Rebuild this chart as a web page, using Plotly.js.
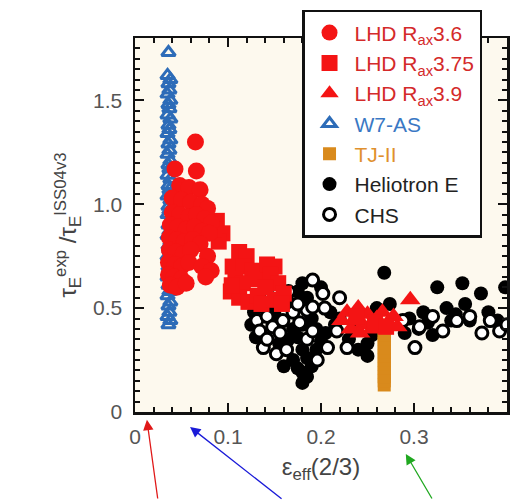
<!DOCTYPE html>
<html>
<head>
<meta charset="utf-8">
<script src="https://cdn.plot.ly/plotly-3.0.1.min.js"></script>
<style>
html,body{margin:0;padding:0;background:#fff;overflow:hidden;}
#chart{width:512px;height:500px;}
</style>
</head>
<body>
<div id="chart"></div>
<script>
// ---- data ----
const w7Name = 'W7-AS';
const w7X = [0.036,0.035,0.038,0.036,0.037,0.035,0.038,0.036,0.037,0.035,0.038,0.036,0.037,0.035,0.038,0.036,0.037,0.035,0.038,0.036,0.037,0.035,0.038,0.036,0.037,0.035,0.038,0.036,0.037,0.035,0.038,0.036,0.037,0.035,0.038,0.036,0.037,0.035,0.038,0.036,0.037,0.035,0.038,0.036,0.037,0.035,0.038,0.036,0.037,0.035,0.038,0.036];
const w7Y = [1.73,1.62,1.60,1.58,1.55,1.53,1.50,1.48,1.46,1.43,1.41,1.38,1.36,1.34,1.31,1.29,1.26,1.24,1.21,1.19,1.17,1.14,1.12,1.09,1.07,1.04,1.02,0.99,0.97,0.95,0.92,0.90,0.87,0.85,0.82,0.80,0.78,0.75,0.73,0.70,0.68,0.65,0.63,0.61,0.58,0.56,0.53,0.51,0.48,0.46,0.44,0.42];

const lhd36X = [0.065,0.043,0.066,0.048,0.058,0.070,0.040,0.050,0.060,0.072,0.078,0.040,0.048,0.058,0.066,0.075,0.082,0.038,0.046,0.055,0.064,0.072,0.080,0.037,0.045,0.053,0.062,0.070,0.037,0.044,0.052,0.060,0.078,0.036,0.043,0.050,0.058,0.072,0.082,0.036,0.042,0.050,0.076,0.038,0.045,0.055];
const lhd36Y = [1.30,1.17,1.16,1.09,1.08,1.07,1.03,1.02,1.01,1.00,0.98,0.96,0.95,0.94,0.95,0.93,0.91,0.90,0.89,0.88,0.89,0.87,0.86,0.84,0.83,0.82,0.83,0.81,0.78,0.77,0.76,0.78,0.75,0.72,0.71,0.70,0.72,0.70,0.68,0.66,0.65,0.64,0.65,0.61,0.60,0.62];

const lhd375X = [0.088,0.094,0.090,0.085,0.105,0.112,0.120,0.117,0.126,0.108,0.116,0.130,0.103,0.112,0.122,0.132,0.142,0.150,0.146,0.154,0.160,0.140,0.136,0.150,0.158,0.104,0.238,0.258,0.270];
const lhd375Y = [0.92,0.86,0.82,0.88,0.70,0.77,0.75,0.70,0.68,0.64,0.62,0.64,0.58,0.55,0.53,0.56,0.71,0.70,0.66,0.62,0.57,0.60,0.52,0.54,0.52,0.61,0.46,0.43,0.41];

const lhd39X = [0.222,0.228,0.235,0.240,0.245,0.250,0.232,0.255,0.260,0.266,0.272,0.278,0.282,0.242,0.296];
const lhd39Y = [0.44,0.48,0.44,0.50,0.42,0.47,0.40,0.40,0.45,0.48,0.43,0.46,0.41,0.38,0.54];

const tjX = [0.268,0.268,0.268,0.268,0.268,0.268,0.268,0.268,0.268,0.268,0.268,0.268,0.268,0.268];
const tjY = [0.13,0.15,0.17,0.19,0.21,0.23,0.25,0.27,0.29,0.31,0.33,0.35,0.37,0.38];

const heX = [0.128,0.125,0.130,0.135,0.140,0.145,0.150,0.155,0.160,0.165,0.165,0.170,0.170,0.175,0.175,0.175,0.180,0.180,0.180,0.180,0.180,0.185,0.185,0.185,0.190,0.190,0.195,0.195,0.200,0.200,0.205,0.210,0.215,0.220,0.230,0.235,0.240,0.250,0.250,0.255,0.260,0.268,0.274,0.290,0.295,0.305,0.310,0.315,0.320,0.325,0.335,0.340,0.345,0.352,0.355,0.360,0.372,0.380,0.390,0.398];
const heY = [0.48,0.42,0.36,0.53,0.56,0.50,0.47,0.33,0.22,0.53,0.35,0.40,0.25,0.58,0.36,0.21,0.62,0.42,0.30,0.19,0.14,0.55,0.26,0.17,0.45,0.22,0.40,0.30,0.60,0.34,0.38,0.48,0.42,0.45,0.35,0.40,0.30,0.33,0.27,0.37,0.50,0.67,0.52,0.38,0.45,0.40,0.48,0.43,0.37,0.60,0.50,0.44,0.47,0.62,0.52,0.44,0.57,0.48,0.44,0.60];

const chsX = [0.131,0.134,0.138,0.142,0.142,0.148,0.152,0.156,0.159,0.163,0.170,0.177,0.185,0.185,0.191,0.196,0.191,0.202,0.191,0.204,0.220,0.207,0.217,0.228,0.288,0.301,0.306,0.320,0.331,0.346,0.360,0.373,0.382,0.392,0.400,0.145,0.165,0.175];
const chsY = [0.44,0.39,0.31,0.46,0.35,0.41,0.28,0.38,0.44,0.30,0.48,0.43,0.49,0.35,0.39,0.25,0.635,0.57,0.505,0.50,0.55,0.31,0.39,0.31,0.44,0.31,0.41,0.46,0.39,0.44,0.46,0.38,0.44,0.39,0.42,0.55,0.58,0.52];

const xTickVals = [0, 0.1, 0.2, 0.3, 0.4];
const xTickText = ['0', '0.1', '0.2', '0.3', '0.4'];
const yTickVals = [0, 0.5, 1.0, 1.5];
const yTickText = ['0', '0.5', '1.0', '1.5'];

// ---- styling ----
const RED = '#f41414';
const BLUE = '#2d6cb8';
const ORANGE = '#d98a1c';
function lbl(t, c){ return '<span style="color:' + c + '">' + t + '</span>'; }

const traces = [
  {x: heX, y: heY, name: lbl('Heliotron E', '#222'), legendrank: 6, type: 'scatter', mode: 'markers',
   marker: {symbol: 'circle', size: 14, color: '#000'}},
  {x: chsX, y: chsY, name: lbl('CHS', '#222'), legendrank: 7, type: 'scatter', mode: 'markers',
   marker: {symbol: 'circle', size: 12, color: '#fff', line: {color: '#000', width: 3}}},
  {x: w7X, y: w7Y, name: lbl(w7Name, '#3a78c4'), legendrank: 4, type: 'scatter', mode: 'markers',
   marker: {symbol: 'triangle-up-open', size: 12, color: BLUE, line: {color: BLUE, width: 3}}},
  {x: tjX, y: tjY, name: lbl('TJ-II', '#e0902e'), legendrank: 5, type: 'scatter', mode: 'markers',
   marker: {symbol: 'square', size: 13, color: ORANGE}},
  {x: lhd39X, y: lhd39Y, name: lbl('LHD R<sub>ax</sub>3.9', '#d42a2a'), legendrank: 3, type: 'scatter', mode: 'markers',
   marker: {symbol: 'triangle-up', size: 18, color: RED}},
  {x: lhd375X, y: lhd375Y, name: lbl('LHD R<sub>ax</sub>3.75', '#d42a2a'), legendrank: 2, type: 'scatter', mode: 'markers',
   marker: {symbol: 'square', size: 16, color: RED}},
  {x: lhd36X, y: lhd36Y, name: lbl('LHD R<sub>ax</sub>3.6', '#d42a2a'), legendrank: 1, type: 'scatter', mode: 'markers',
   marker: {symbol: 'circle', size: 17, color: RED}}
];

const axisCommon = {
  showline: true, linecolor: '#111', linewidth: 2.5, mirror: 'ticks',
  ticks: 'inside', ticklen: 9, tickwidth: 2, tickcolor: '#111',
  showgrid: false, zeroline: false,
  tickfont: {family: 'Liberation Sans, Arial, sans-serif', size: 21, color: '#555'}
};

const layout = {
  width: 512, height: 500,
  margin: {l: 135, r: 5, t: 38, b: 88},
  paper_bgcolor: '#ffffff',
  plot_bgcolor: '#fdf9ee',
  font: {family: 'Liberation Sans, Arial, sans-serif', color: '#444'},
  showlegend: true,
  legend: {
    x: 0.449, y: 1.075, xanchor: 'left', yanchor: 'top',
    bgcolor: '#ffffff', bordercolor: '#111', borderwidth: 2.5,
    font: {family: 'Liberation Sans, Arial, sans-serif', size: 21, color: '#222'},
    itemwidth: 40
  },
  xaxis: Object.assign({}, axisCommon, {
    range: [0, 0.4], tickmode: 'array', tickvals: xTickVals, ticktext: xTickText,
    minor: {dtick: 0.02, ticks: 'inside', ticklen: 5, tickwidth: 2, tickcolor: '#111'},
    ticklabelstandoff: 4,
    title: {text: 'ε<sub>eff</sub>(2/3)', font: {size: 24, color: '#444'}, standoff: 12}
  }),
  yaxis: Object.assign({}, axisCommon, {
    range: [0, 1.8], tickmode: 'array', tickvals: yTickVals, ticktext: yTickText,
    minor: {dtick: 0.05, ticks: 'inside', ticklen: 5, tickwidth: 2, tickcolor: '#111'},
    ticklabelstandoff: 6,
    title: {text: 'τ<sub>E</sub><sup>exp</sup> /τ<sub>E</sub><sup>ISS04v3</sup>', font: {size: 24, color: '#444'}, standoff: 10}
  }),
  annotations: [
    {xref: 'paper', yref: 'paper', x: 0.032, y: -0.021, text: '', showarrow: true,
     ax: 11, ay: 82, arrowhead: 2, arrowsize: 1.6, arrowwidth: 1.3, arrowcolor: '#e01818'},
    {xref: 'paper', yref: 'paper', x: 0.148, y: -0.040, text: '', showarrow: true,
     ax: 93, ay: 75, arrowhead: 2, arrowsize: 1.6, arrowwidth: 1.3, arrowcolor: '#1a1ad8'},
    {xref: 'paper', yref: 'paper', x: 0.728, y: -0.112, text: '', showarrow: true,
     ax: 27, ay: 48, arrowhead: 2, arrowsize: 1.6, arrowwidth: 1.3, arrowcolor: '#20a820'}
  ]
};

Plotly.newPlot('chart', traces, layout, {displayModeBar: false, staticPlot: true});
</script>
</body>
</html>
